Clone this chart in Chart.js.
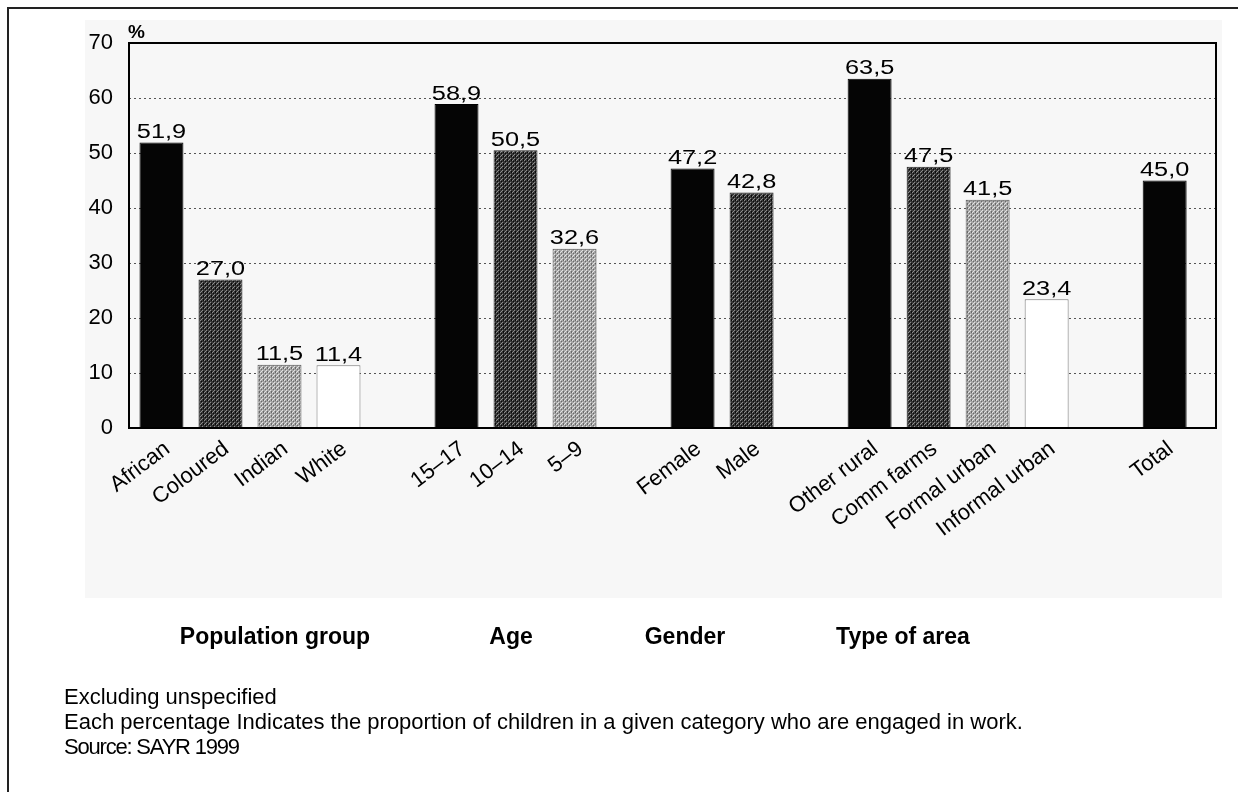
<!DOCTYPE html>
<html><head><meta charset="utf-8">
<script src="https://cdn.jsdelivr.net/npm/chart.js@4/dist/chart.umd.min.js"></script>
<style>
html,body{margin:0;padding:0;background:#fff;}
#wrap{position:relative;width:1238px;height:792px;overflow:hidden;font-family:'Liberation Sans',Arial,sans-serif;color:#000;}
#frame{position:absolute;left:7px;top:7px;width:1260px;height:820px;border-left:2px solid #222;border-top:2px solid #222;box-sizing:border-box;}
#panel{position:absolute;left:85px;top:20px;width:1137px;height:578px;background:#f7f7f7;}
canvas{position:absolute;left:0;top:0;}
.t{position:absolute;white-space:nowrap;}
.grp{font-weight:bold;font-size:23px;line-height:23px;width:300px;text-align:center;top:625px;}
.note{font-size:22px;line-height:22px;left:64px;}
#pct{left:128px;top:22px;font-weight:bold;font-size:19px;line-height:19px;}
</style></head><body>
<div id="wrap">
<div id="frame"></div>
<div id="panel"></div>
<canvas id="c" width="1238" height="792"></canvas>
<div class="t" id="pct">%</div>
</div>
<script>
// ---- data ----
const categories = ['African','Coloured','Indian','White','','15–17','10–14','5–9','','Female','Male','','Other rural','Comm farms','Formal urban','Informal urban','','Total'];
const values = [51.9,27.0,11.5,11.4,null,58.9,50.5,32.6,null,47.2,42.8,null,63.5,47.5,41.5,23.4,null,45.0];
const shades = ['black','dark','light','white',null,'black','dark','light',null,'black','dark',null,'black','dark','light','white',null,'black'];
const yTicks = [0,10,20,30,40,50,60,70];
const groupNames = ['Population group','Age','Gender','Type of area'];
const notes = ['Excluding unspecified','Each percentage Indicates the proportion of children in a given category who are engaged in work.','Source: SAYR 1999'];

// ---- layout (not data) ----
const groupCenters = [275, 511, 685, 903];
const noteTops = [686, 711, 736];

const wrap = document.getElementById('wrap');
groupNames.forEach((g,i)=>{
  const d=document.createElement('div'); d.className='t grp'; d.textContent=g;
  d.style.left=(groupCenters[i]-150)+'px'; wrap.appendChild(d);
});
notes.forEach((n,i)=>{
  const d=document.createElement('div'); d.className='t note'; d.textContent=n;
  d.style.top=noteTops[i]+'px';
  if(i===2) d.style.letterSpacing='-1.2px';
  wrap.appendChild(d);
});

function makePattern(base, hi, lo){
  const c=document.createElement('canvas'); c.width=4; c.height=4;
  const x=c.getContext('2d');
  x.fillStyle=base; x.fillRect(0,0,4,4);
  x.fillStyle=hi; x.fillRect(0,0,1,1); x.fillRect(2,2,1,1); x.fillRect(1,3,1,1);
  x.fillStyle=lo; x.fillRect(1,1,1,1); x.fillRect(3,3,1,1); x.fillRect(3,0,1,1);
  return document.getElementById('c').getContext('2d').createPattern(c,'repeat');
}
const fillMap = {
  black:'#050505',
  dark: makePattern('#363636','#8c8c8c','#0a0a0a'),
  light: makePattern('#a6a6a6','#e2e2e2','#6a6a6a'),
  white:'#ffffff'
};
const borderMap = {black:'#000', dark:'#222', light:'#555', white:'#777'};

const idx = categories.map((c,i)=>i).filter(i=>values[i]!==null);
const points = idx.map(i=>({x:i, y:values[i]}));
const fills = idx.map(i=>fillMap[shades[i]]);
const borders = idx.map(i=>borderMap[shades[i]]);

const FONT = "'Liberation Sans', Arial, sans-serif";
Chart.defaults.font.family = FONT;
Chart.defaults.color = '#000';

const valueLabels = {
  id:'valueLabels',
  afterDatasetsDraw(chart){
    const ctx=chart.ctx;
    const meta=chart.getDatasetMeta(0);
    ctx.save();
    ctx.fillStyle='#000';
    ctx.font="19.5px "+FONT;
    ctx.textAlign='center';
    ctx.textBaseline='alphabetic';
    meta.data.forEach((bar,k)=>{
      const txt=points[k].y.toFixed(1).replace('.',',');
      ctx.save();
      ctx.translate(bar.x, bar.y-4.5);
      ctx.scale(1.3,1);
      ctx.fillText(txt,0,0);
      ctx.restore();
    });
    // plot frame
    const a=chart.chartArea;
    ctx.strokeStyle='#000'; ctx.lineWidth=2;
    ctx.strokeRect(a.left, a.top, a.right-a.left, a.bottom-a.top);
    ctx.restore();
  }
};

new Chart(document.getElementById('c'), {
  type:'bar',
  data:{datasets:[{
    data:points,
    backgroundColor:fills,
    borderColor:borders,
    borderWidth:1,
    barPercentage:0.745,
    categoryPercentage:1
  }]},
  options:{
    responsive:false,
    animation:false,
    devicePixelRatio:1,
    layout:{padding:{top:43,right:22,left:0,bottom:0}},
    plugins:{legend:{display:false},tooltip:{enabled:false}},
    scales:{
      x:{
        type:'linear',
        offset:false,
        min:-0.55, max:17.87,
        afterBuildTicks:(s)=>{ s.ticks = categories.map((c,i)=>({value:i})).filter(t=>categories[t.value]); },
        ticks:{autoSkip:false, minRotation:37, maxRotation:37, padding:0, labelOffset:6, color:'#000',
               font:{size:22}, callback:(v)=>categories[v]},
        grid:{display:false},
        border:{display:false},
        afterFit:(s)=>{ s.height=364; }
      },
      y:{
        min:0, max:70,
        afterBuildTicks:(s)=>{ s.ticks = yTicks.map(v=>({value:v})); },
        ticks:{padding:16, color:'#000', font:{size:22}},
        grid:{color:'#555', lineWidth:1, drawTicks:false},
        border:{display:false, dash:[2,3]},
        afterFit:(s)=>{ s.width=129; }
      }
    }
  },
  plugins:[valueLabels]
});
</script>
</body></html>
